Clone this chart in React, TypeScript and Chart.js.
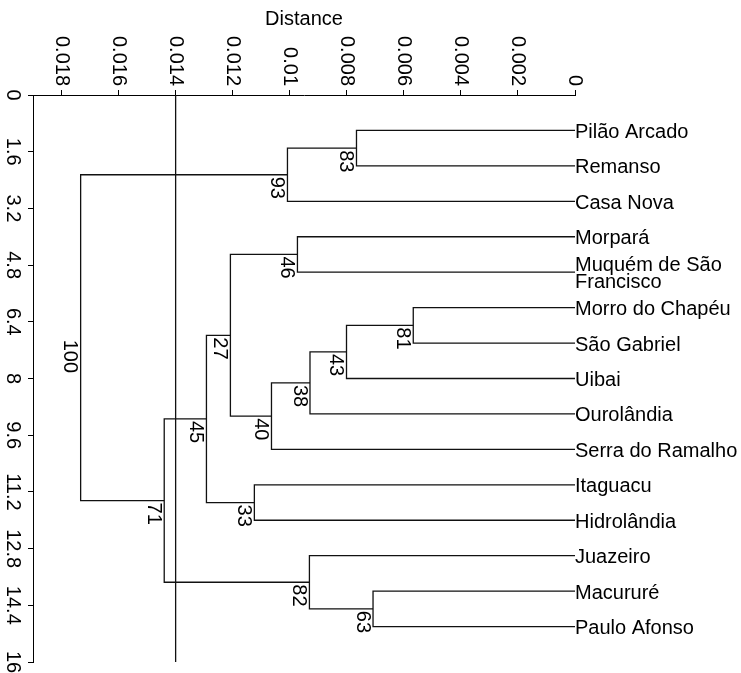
import React, { useEffect, useRef } from 'react';
import { Chart, registerables } from 'chart.js';

Chart.register(...registerables);

const FONT = "'Liberation Sans', Arial, Helvetica, sans-serif";

// Leaves, top to bottom
const leafNames: (string | string[])[] = [
  'Pilão Arcado',
  'Remanso',
  'Casa Nova',
  'Morpará',
  ['Muquém de São', 'Francisco'],
  'Morro do Chapéu',
  'São Gabriel',
  'Uibai',
  'Ourolândia',
  'Serra do Ramalho',
  'Itaguacu',
  'Hidrolândia',
  'Juazeiro',
  'Macururé',
  'Paulo Afonso',
];

// Merges: ids 0..14 are leaves, 15+ are merges in order
const mergeLeft = [0, 15, 3, 5, 18, 19, 20, 17, 10, 22, 13, 12, 24, 16];
const mergeRight = [1, 2, 4, 6, 7, 8, 9, 21, 11, 23, 14, 25, 26, 27];
const mergeHeight = [
  0.00766, 0.01008, 0.00973, 0.00567, 0.00801, 0.00929, 0.01064,
  0.01208, 0.01124, 0.01292, 0.00708, 0.00931, 0.0144, 0.01733,
];
const bootstrap = [83, 93, 46, 81, 43, 38, 40, 27, 33, 45, 63, 82, 71, 100];

const cutDistance = 0.014;

const distanceTicks = [0.018, 0.016, 0.014, 0.012, 0.01, 0.008, 0.006, 0.004, 0.002, 0];
const distanceTickLabels = ['0.018', '0.016', '0.014', '0.012', '0.01', '0.008', '0.006', '0.004', '0.002', '0'];
const rowTicks = [0, 1.6, 3.2, 4.8, 6.4, 8, 9.6, 11.2, 12.8, 14.4, 16];
const rowTickLabels = ['0', '1.6', '3.2', '4.8', '6.4', '8', '9.6', '11.2', '12.8', '14.4', '16'];

// Derived node positions
const nodeY: number[] = leafNames.map((_, i) => i + 1);
const nodeH: number[] = leafNames.map(() => 0);
mergeLeft.forEach((a, k) => {
  const b = mergeRight[k];
  nodeY.push((nodeY[a] + nodeY[b]) / 2);
  nodeH.push(mergeHeight[k]);
});

export default function App() {
  const ref = useRef<HTMLCanvasElement>(null);

  useEffect(() => {
    const canvas = ref.current;
    if (!canvas) return;

    const lineColor = '#111';
    const datasets: any[] = mergeLeft.map((a, k) => {
      const b = mergeRight[k];
      const H = mergeHeight[k];
      return {
        data: [
          { x: nodeH[a], y: nodeY[a] },
          { x: H, y: nodeY[a] },
          { x: H, y: nodeY[b] },
          { x: nodeH[b], y: nodeY[b] },
        ],
        showLine: true,
        borderColor: lineColor,
        borderWidth: 1.3,
        pointRadius: 0,
        tension: 0,
        clip: false,
      };
    });
    datasets.push({
      data: [
        { x: cutDistance, y: 0 },
        { x: cutDistance, y: 16 },
      ],
      showLine: true,
      borderColor: lineColor,
      borderWidth: 1.3,
      pointRadius: 0,
      clip: false,
    });

    const labelPlugin = {
      id: 'dendroLabels',
      afterDraw(chart: any) {
        const ctx = chart.ctx as CanvasRenderingContext2D;
        const xs = chart.scales.x;
        const ys = chart.scales.y;
        ctx.save();
        ctx.fillStyle = '#000';
        ctx.font = `20px ${FONT}`;

        // distance tick labels, rotated clockwise
        ctx.textAlign = 'right';
        ctx.textBaseline = 'middle';
        distanceTicks.forEach((v, i) => {
          const px = xs.getPixelForValue(v);
          ctx.save();
          ctx.translate(px, xs.bottom - 9);
          ctx.rotate(Math.PI / 2);
          ctx.fillText(distanceTickLabels[i], 0, 0);
          ctx.restore();
        });

        // row tick labels, rotated clockwise
        ctx.textAlign = 'center';
        ctx.textBaseline = 'alphabetic';
        rowTicks.forEach((v, i) => {
          const py = ys.getPixelForValue(v);
          ctx.save();
          ctx.translate(ys.right - 26, py);
          ctx.rotate(Math.PI / 2);
          ctx.fillText(rowTickLabels[i], 0, 0);
          ctx.restore();
        });

        // bootstrap values at nodes
        ctx.textAlign = 'left';
        ctx.textBaseline = 'alphabetic';
        bootstrap.forEach((val, k) => {
          const px = xs.getPixelForValue(mergeHeight[k]);
          const py = ys.getPixelForValue(nodeY[leafNames.length + k]);
          ctx.save();
          ctx.translate(px - 2 - 14.3, py + 2);
          ctx.rotate(Math.PI / 2);
          ctx.fillText(String(val), 0, 0);
          ctx.restore();
        });
        ctx.restore();
      },
    };

    const axisGrid = {
      drawOnChartArea: false,
      drawTicks: true,
      tickLength: 5,
      color: '#000',
      lineWidth: 1,
    };

    const chart = new Chart(canvas, {
      type: 'scatter',
      data: { datasets },
      options: {
        animation: false,
        responsive: false,
        layout: { padding: { left: 0, right: 0, top: 0, bottom: 11 } },
        plugins: {
          legend: { display: false },
          tooltip: { enabled: false },
        },
        scales: {
          x: {
            type: 'linear',
            position: 'top',
            reverse: true,
            min: 0,
            max: 0.019,
            afterBuildTicks: (s: any) => {
              s.ticks = distanceTicks.map((v) => ({ value: v }));
            },
            afterFit: (s: any) => {
              s.height = 95;
              s.paddingLeft = 0;
              s.paddingRight = 0;
            },
            grid: axisGrid,
            border: { display: true, color: '#000', width: 1 },
            ticks: { display: false },
            title: {
              display: true,
              text: 'Distance',
              color: '#000',
              font: { family: FONT, size: 20 },
              padding: { top: 7, bottom: 0 },
            },
          },
          y: {
            type: 'linear',
            position: 'left',
            reverse: true,
            min: 0,
            max: 16,
            afterBuildTicks: (s: any) => {
              s.ticks = rowTicks.map((v) => ({ value: v }));
            },
            afterFit: (s: any) => {
              s.width = 33;
              s.paddingTop = 0;
              s.paddingBottom = 0;
            },
            grid: axisGrid,
            border: { display: true, color: '#000', width: 1 },
            ticks: { display: false },
          },
          y2: {
            type: 'linear',
            position: 'right',
            reverse: true,
            min: 0,
            max: 16,
            display: true,
            afterBuildTicks: (s: any) => {
              s.ticks = leafNames.map((_, i) => ({ value: i + 1 }));
            },
            afterFit: (s: any) => {
              s.width = 166;
              s.paddingTop = 0;
              s.paddingBottom = 0;
            },
            grid: { display: false, drawTicks: false, drawOnChartArea: false },
            border: { display: false },
            ticks: {
              autoSkip: false,
              padding: 0,
              labelOffset: 2,
              color: '#000',
              font: { family: FONT, size: 20, lineHeight: 0.87 },
              callback: (_v: any, i: number) => leafNames[i] as any,
            },
          },
        },
      } as any,
      plugins: [labelPlugin],
    });

    return () => chart.destroy();
  }, []);

  return (
    <canvas
      ref={ref}
      width={741}
      height={673}
      style={{ position: 'absolute', left: 0, top: 0, display: 'block', width: 741, height: 673 }}
    />
  );
}
